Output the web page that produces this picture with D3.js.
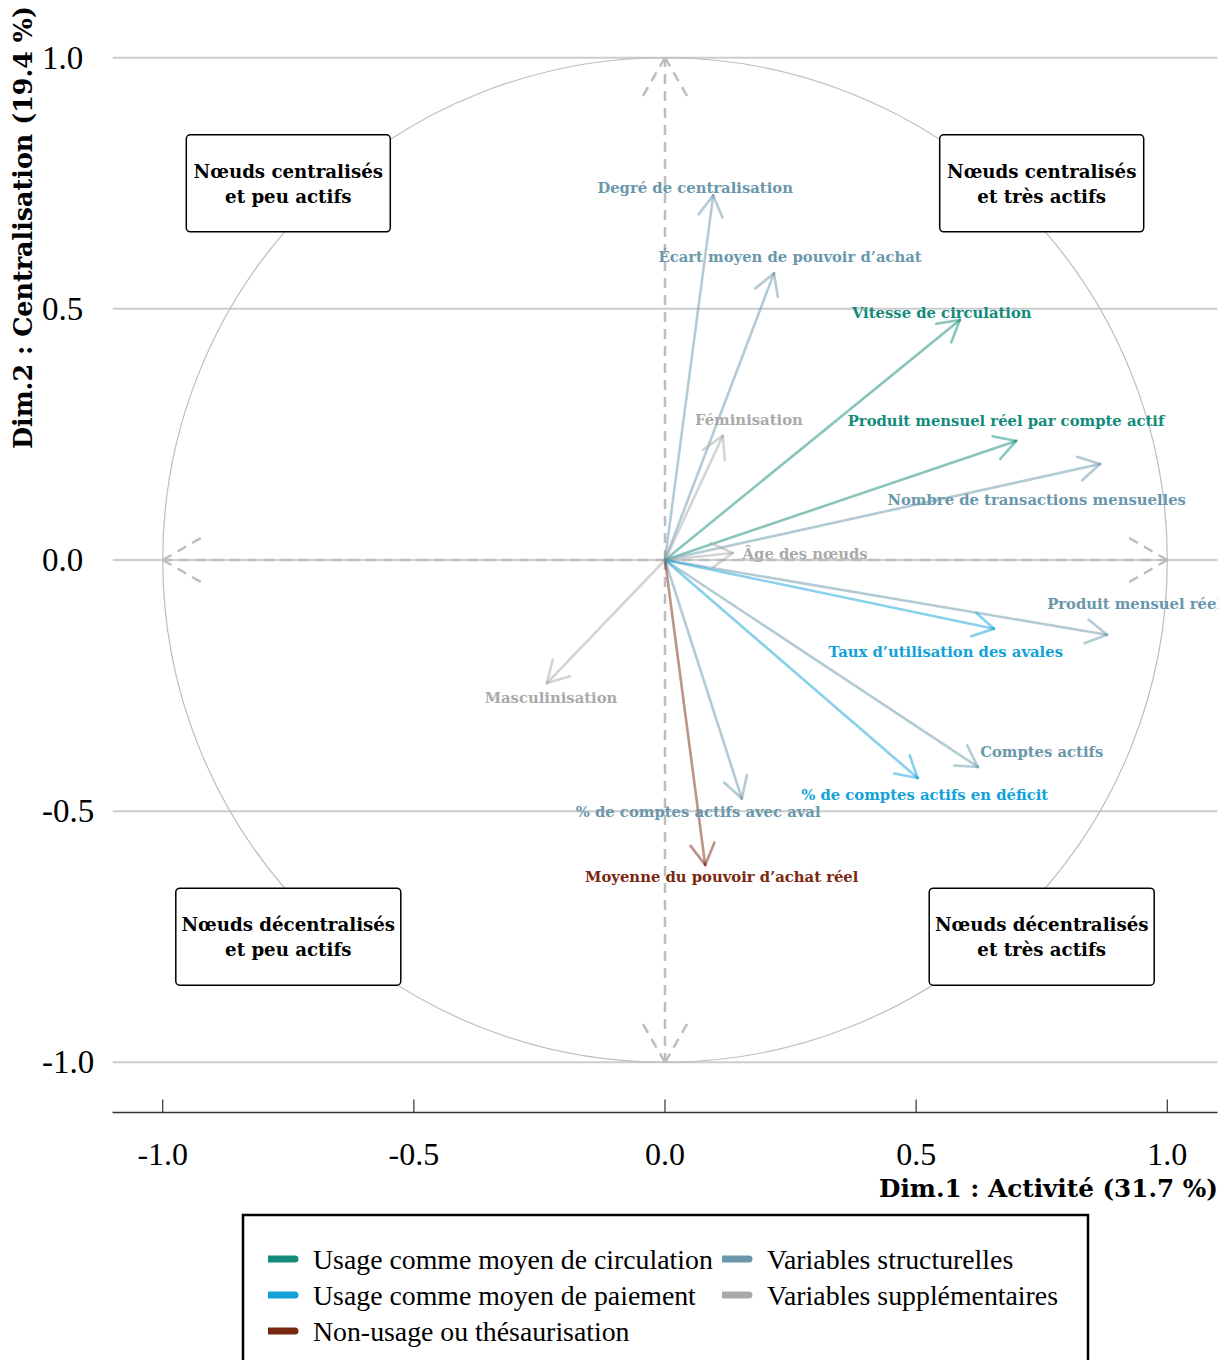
<!DOCTYPE html>
<html><head><meta charset="utf-8">
<script src="https://cdn.jsdelivr.net/npm/d3@7"></script>
<style>
html,body{margin:0;padding:0;background:#fff;}
svg{display:block;}
</style></head>
<body>
<script>
// ---------- data ----------
const variables = [
  "Degré de centralisation","Écart moyen de pouvoir d’achat","Vitesse de circulation",
  "Féminisation","Produit mensuel réel par compte actif","Nombre de transactions mensuelles",
  "Âge des nœuds","Produit mensuel réel","Taux d’utilisation des avales","Comptes actifs",
  "% de comptes actifs en déficit","% de comptes actifs avec aval","Moyenne du pouvoir d’achat réel",
  "Masculinisation"
];
const dim1 = [0.096,0.217,0.587,0.115,0.699,0.866,0.135,0.880,0.655,0.623,0.503,0.153,0.080,-0.235];
const dim2 = [0.726,0.571,0.478,0.247,0.237,0.191,0.014,-0.149,-0.137,-0.412,-0.434,-0.475,-0.607,-0.245];
const groups = ["struct","struct","circ","supp","circ","struct","supp","struct","paie","struct","paie","struct","non","supp"];
const labelX = [0.060,0.249,0.551,0.167,0.679,0.740,0.279,0.935,0.559,0.750,0.517,0.066,0.113,-0.227];
const labelY = [0.742,0.605,0.492,0.279,0.277,0.121,0.012,-0.086,-0.183,-0.382,-0.466,-0.500,-0.631,-0.273];

const groupKeys = ["circ","paie","non","struct","supp"];
const groupNames = ["Usage comme moyen de circulation","Usage comme moyen de paiement","Non-usage ou thésaurisation","Variables structurelles","Variables supplémentaires"];
const groupColors = ["#138b7a","#12a2d8","#7a2810","#6a97ac","#aaaaaa"];

const xTicks = [-1.0,-0.5,0.0,0.5,1.0];
const yTicks = [1.0,0.5,0.0,-0.5,-1.0];

const quadrantX = [-0.75,0.75,-0.75,0.75];
const quadrantY = [0.75,0.75,-0.75,-0.75];
const quadrantLine1 = ["Nœuds centralisés","Nœuds centralisés","Nœuds décentralisés","Nœuds décentralisés"];
const quadrantLine2 = ["et peu actifs","et très actifs","et peu actifs","et très actifs"];

// ---------- chart ----------
const W = 1227, H = 1360;
const svg = d3.select("body").append("svg").attr("width",W).attr("height",H);
const x = d3.scaleLinear().domain([-1.1,1.1]).range([112.5,1217.5]);
const y = d3.scaleLinear().domain([-1.1,1.1]).range([1112.5,7.5]);
const color = d3.scaleOrdinal().domain(groupKeys).range(groupColors);
const fmt = d => d3.format(".1f")(d).replace("−","-");

svg.append("defs").append("clipPath").attr("id","plotclip")
  .append("rect").attr("x",x(-1.1)).attr("y",0).attr("width",x(1.1)-x(-1.1)).attr("height",y(-1.1));

const plot = svg.append("g").attr("clip-path","url(#plotclip)");

// horizontal gridlines
plot.selectAll("line.grid").data(yTicks).join("line")
  .attr("x1",x(-1.1)).attr("x2",x(1.1)).attr("y1",d=>y(d)).attr("y2",d=>y(d))
  .attr("stroke","#cccccc").attr("stroke-width",2);

// circle
plot.append("circle").attr("cx",x(0)).attr("cy",y(0)).attr("r",x(1)-x(0))
  .attr("fill","none").attr("stroke","#bdbdbd").attr("stroke-width",1.2);

// dashed axes with arrowheads
function arrowHead(g, x0,y0,x1,y1,len,ang,attrs){
  const a = Math.atan2(y1-y0,x1-x0);
  [ang,-ang].forEach(s=>{
    const l = g.append("line").attr("x1",x1).attr("y1",y1)
      .attr("x2",x1-len*Math.cos(a+s)).attr("y2",y1-len*Math.sin(a+s));
    Object.entries(attrs).forEach(([k,v])=>l.attr(k,v));
  });
}
const dashAttrs = {"stroke":"#bdbdbd","stroke-width":2.5,"stroke-dasharray":"10,7"};
const axes = plot.append("g");
[[0,0,0,1],[0,0,0,-1],[0,0,1,0],[0,0,-1,0]].forEach(([a,b,c,d])=>{
  const l = axes.append("line").attr("x1",x(a)).attr("y1",y(b)).attr("x2",x(c)).attr("y2",y(d));
  Object.entries(dashAttrs).forEach(([k,v])=>l.attr(k,v));
  arrowHead(axes,x(a),y(b),x(c),y(d),50,Math.PI/6,dashAttrs);
});

// variable arrows
const vars = variables.map((v,i)=>({name:v,x:dim1[i],y:dim2[i],g:groups[i],lx:labelX[i],ly:labelY[i]}));
const arrows = plot.append("g");
vars.forEach(d=>{
  const g = arrows.append("g").attr("stroke",color(d.g)).attr("stroke-opacity",0.5)
     .attr("stroke-width",2.6).attr("stroke-linecap","round");
  g.append("line").attr("x1",x(0)).attr("y1",y(0)).attr("x2",x(d.x)).attr("y2",y(d.y));
  arrowHead(g,x(0),y(0),x(d.x),y(d.y),24,Math.PI/6,{});
});

// labels
plot.append("g").selectAll("text").data(vars).join("text")
  .attr("x",d=>x(d.lx)).attr("y",d=>y(d.ly))
  .attr("text-anchor","middle").attr("dominant-baseline","central")
  .attr("font-family","'DejaVu Serif', serif").attr("font-weight","bold").attr("font-size",14.8)
  .attr("fill",d=>color(d.g)).text(d=>d.name);

// quadrant boxes
const qg = svg.append("g");
quadrantX.forEach((qx,i)=>{
  const cx = x(qx), cy = y(quadrantY[i]);
  const w = i<2 ? 204 : 225, h = 97;
  qg.append("rect").attr("x",cx-w/2).attr("y",cy-h/2).attr("width",w).attr("height",h)
    .attr("rx",4).attr("fill","#fff").attr("stroke","#000").attr("stroke-width",1.5);
  const t = qg.append("text").attr("x",cx).attr("y",cy).attr("text-anchor","middle")
    .attr("font-family","'DejaVu Serif', serif").attr("font-weight","bold").attr("font-size",18.2).attr("fill","#000");
  t.append("tspan").attr("x",cx).attr("y",cy-12).attr("dominant-baseline","central").text(quadrantLine1[i]);
  t.append("tspan").attr("x",cx).attr("y",cy+13).attr("dominant-baseline","central").text(quadrantLine2[i]);
});

// x axis
const xa = svg.append("g").attr("transform",`translate(0,${y(-1.1)})`);
xa.append("line").attr("x1",x(-1.1)).attr("x2",x(1.1)).attr("stroke","#333").attr("stroke-width",1.5);
xa.selectAll("line.tick").data(xTicks).join("line").attr("class","tick")
  .attr("x1",d=>x(d)).attr("x2",d=>x(d)).attr("y1",0).attr("y2",-13).attr("stroke","#333").attr("stroke-width",1.2);
xa.selectAll("text").data(xTicks).join("text")
  .attr("x",d=>x(d)).attr("y",52).attr("text-anchor","middle")
  .attr("font-family","'Liberation Serif', serif").attr("font-size",32).attr("fill","#000")
  .text(fmt);
svg.append("text").attr("x",1218).attr("y",1197).attr("text-anchor","end")
  .attr("font-family","'DejaVu Serif', serif").attr("font-weight","bold").attr("font-size",24.7).attr("fill","#000")
  .text("Dim.1 : Activité (31.7 %)");

// y ticks
svg.append("g").selectAll("text").data(yTicks).join("text")
  .attr("x",42).attr("y",d=>y(d)).attr("dominant-baseline","central")
  .attr("font-family","'Liberation Serif', serif").attr("font-size",33).attr("fill","#000")
  .text(fmt);
svg.append("text").attr("transform","translate(32,6) rotate(-90)").attr("text-anchor","end")
  .attr("font-family","'DejaVu Serif', serif").attr("font-weight","bold").attr("font-size",25.4).attr("fill","#000")
  .text("Dim.2 : Centralisation (19.4 %)");

// legend
const lg = svg.append("g");
lg.append("rect").attr("x",243).attr("y",1215).attr("width",845).attr("height",160)
  .attr("fill","#fff").attr("stroke","#000").attr("stroke-width",2.5);
const legPos = [[268,1259],[268,1295],[268,1331],[722,1259],[722,1295]];
groupKeys.forEach((k,i)=>{
  const [lx,ly] = legPos[i];
  lg.append("path").attr("d",`M${lx},${ly-3.5}L${lx+27},${ly-3.5}A3.5,3.5 0 0 1 ${lx+27},${ly+3.5}L${lx},${ly+3.5}Z`)
    .attr("fill",color(k));
  lg.append("text").attr("x",lx+45).attr("y",ly).attr("dominant-baseline","central")
    .attr("font-family","'Liberation Serif', serif").attr("font-size",27.8).attr("fill","#000")
    .text(groupNames[i]);
});
</script>
</body></html>
